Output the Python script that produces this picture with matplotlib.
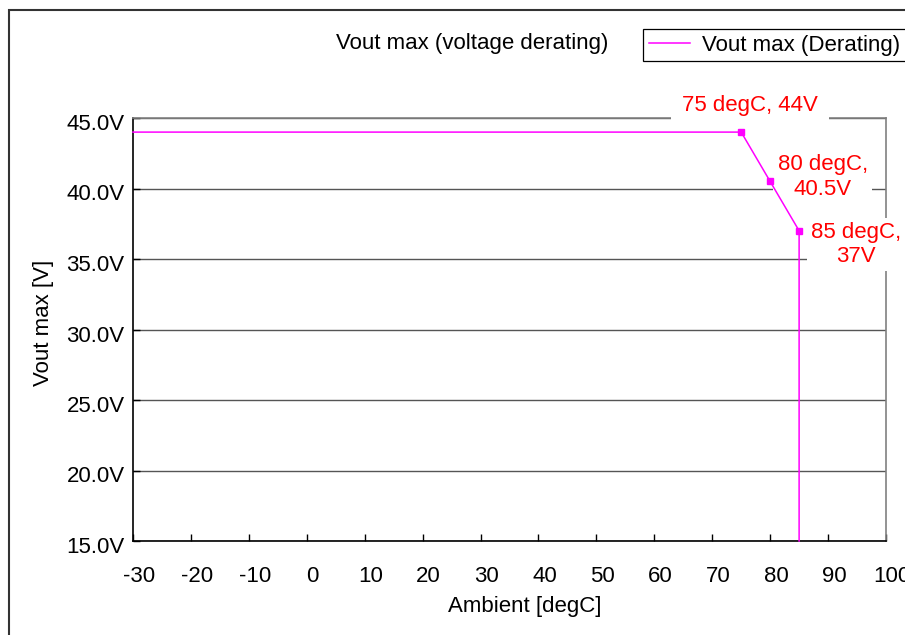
import matplotlib
matplotlib.use("Agg")
import matplotlib.pyplot as plt
from matplotlib.patches import Rectangle
from matplotlib.transforms import ScaledTranslation

plt.rcParams['font.family'] = ['Liberation Sans', 'DejaVu Sans']

# ---- data ----
ambient = [-30, 75, 80, 85, 85]
vout_max = [44.0, 44.0, 40.5, 37.0, 15.0]
point_idx = [1, 2, 3]
point_labels = ["75 degC, 44V", "80 degC,\n40.5V", "85 degC,\n37V"]
xticks = [-30, -20, -10, 0, 10, 20, 30, 40, 50, 60, 70, 80, 90, 100]
xtick_labels = ["-30", "-20", "-10", "0", "10", "20", "30", "40", "50", "60", "70", "80", "90", "100"]
yticks = [15, 20, 25, 30, 35, 40, 45]
ytick_labels = ["15.0V", "20.0V", "25.0V", "30.0V", "35.0V", "40.0V", "45.0V"]
series_name = "Vout max (Derating)"
title = "Vout max (voltage derating)"
xlabel = "Ambient [degC]"
ylabel = "Vout max [V]"

W, H = 905, 635
fig = plt.figure(figsize=(W / 100, H / 100), dpi=100)
ax = fig.add_axes([133 / W, 1 - 541 / H, (886 - 133) / W, (541 - 118) / H])

FS = 16
MAG = '#FF00FF'

line, = ax.plot(ambient, vout_max, color=MAG, lw=1.1, marker='s', markersize=4.5,
                markevery=point_idx, label=series_name, zorder=4, clip_on=False)

ax.set_xlim(-30, 100)
ax.set_ylim(15, 45)
ax.set_xticks(xticks)
ax.set_xticklabels(xtick_labels, fontsize=FS)
ax.set_yticks(yticks)
ax.set_yticklabels(ytick_labels, fontsize=FS)

ax.tick_params(axis='x', direction='in', length=5, width=1, color='black', pad=18)
ax.tick_params(axis='y', direction='in', length=5, width=1, color='black', pad=6)

ax.yaxis.grid(True, color='#555555', lw=1)
ax.xaxis.grid(False)

for s in ['left', 'bottom']:
    ax.spines[s].set_color('black')
    ax.spines[s].set_linewidth(1.2)
for s in ['right', 'top']:
    ax.spines[s].set_color('#808080')
    ax.spines[s].set_linewidth(1.2)

# shift tick labels slightly as in the reference
dx = ScaledTranslation(6 / 100, 0, fig.dpi_scale_trans)
for lab in ax.get_xticklabels():
    lab.set_transform(lab.get_transform() + dx)
dy = ScaledTranslation(0, -4 / 100, fig.dpi_scale_trans)
for lab in ax.get_yticklabels():
    lab.set_transform(lab.get_transform() + dy)

ax.set_xlabel(xlabel, fontsize=FS)
ax.xaxis.set_label_coords((525 - 133) / 753, (541 - 596) / 423)
ax.set_ylabel(ylabel, fontsize=FS)
ax.yaxis.set_label_coords((54 - 133) / 753, (541 - 323) / 423)

ax.set_title(title, fontsize=FS, x=(472 - 133) / 753, y=(541 - 43) / 423, va='center', pad=0)

# point annotations
offsets = [(6.5, 19.4), (38, 3.2), (41, -10)]
pads = [0.5, 0.2, 0.18]
for i, lab, off, pd in zip(point_idx, point_labels, offsets, pads):
    ax.annotate(lab, (ambient[i], vout_max[i]), xytext=off, textcoords='offset points',
                ha='center', va='center', multialignment='center', color='red', fontsize=FS,
                bbox=dict(boxstyle=f'square,pad={pd}', fc='white', ec='none'),
                annotation_clip=False, zorder=3)

leg = fig.legend(handles=[line], labels=[series_name], loc='upper left',
                 bbox_to_anchor=(643 / W, 1 - 59 / H, 0.4, 30 / H), mode='expand',
                 borderaxespad=0, fontsize=FS,
                 fancybox=False, edgecolor='black', framealpha=1, borderpad=0.25,
                 handlelength=1.85, handletextpad=0.55)
leg.get_frame().set_linewidth(0.9)
for h in leg.legend_handles:
    h.set_marker('')

# outer border (cropped on right and bottom)
fig.patches.append(Rectangle((9 / W, -0.5), 2, (1 - 10 / H) + 0.5, transform=fig.transFigure,
                             fill=False, ec='#333333', lw=1.5))

fig.savefig('out.png', dpi=100)
